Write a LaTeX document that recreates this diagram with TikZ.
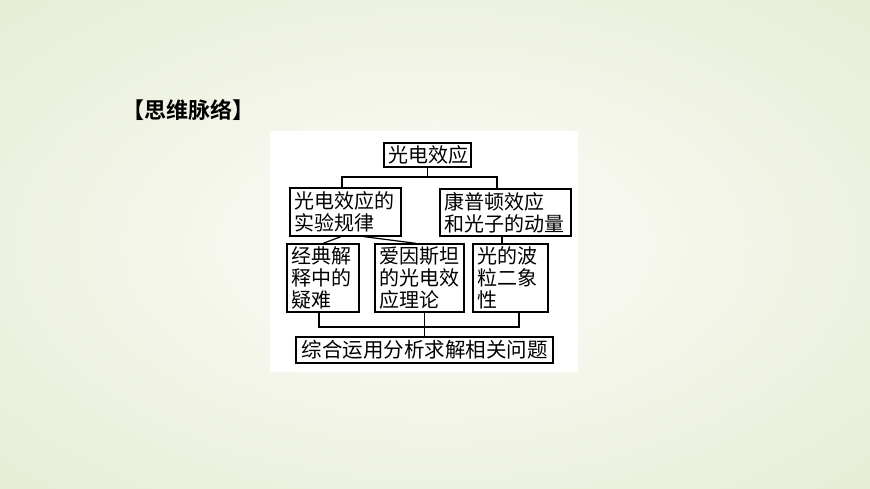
\documentclass[tikz,border=0pt]{standalone}
\usepackage{fontspec}
\newfontfamily\cjk{Noto Sans CJK SC}
\newfontfamily\cjkbold{Noto Sans CJK SC Bold}
\definecolor{bgin}{RGB}{246,247,238}
\definecolor{bgout}{RGB}{220,231,196}
\pgfdeclareradialshading{bgshade}{\pgfpoint{0bp}{0bp}}{color(0bp)=(bgin); color(12bp)=(bgin); color(50bp)=(bgout)}
\tikzset{
  box/.style={draw=black, line width=1.3pt, inner xsep=4pt, inner ysep=0pt, align=left,
    font=\cjk\fontsize{20}{22}\selectfont, anchor=center},
  conn/.style={draw=black, line width=1.2pt},
}
\begin{document}
\begin{tikzpicture}[x=1pt,y=-1pt]
\useasboundingbox (0,0) rectangle (870,489);
\shade[shading=bgshade] (0,0) rectangle (870,489);
\fill[white] (270,131) rectangle (578,372);
\node[font=\cjkbold\fontsize{22}{24}\selectfont, inner sep=0pt] (title) at (188,110) {【思维脉络】};

\node[box, text width=79pt, minimum height=24pt, align=center] (top) at (427.5,155) {光电效应};
\node[box, text width=103pt, minimum height=48pt] (L2) at (345.5,212) {光电效应的\\实验规律};
\node[box, text width=123pt, minimum height=47pt] (R2) at (505.5,212.5) {康普顿效应\\和光子的动量};
\node[box, text width=64pt, minimum height=68pt] (B1) at (323,278) {经典解\\释中的\\疑难};
\node[box, text width=81pt, minimum height=68pt] (B2) at (419.5,278) {爱因斯坦\\的光电效\\应理论};
\node[box, text width=67pt, minimum height=68pt] (B3) at (510.5,278) {光的波\\粒二象\\性};
\node[box, text width=249pt, minimum height=26pt, align=center, font=\cjk\fontsize{20.5}{22}\selectfont] (bot) at (424.5,350) {综合运用分析求解相关问题};

\coordinate (hl) at (342,177);
\coordinate (hr) at (497,177);
\coordinate (rv) at (502,0);
\coordinate (bl) at (319,327);
\coordinate (br) at (519,327);

\draw[conn] (top.south) -- (top.south |- hl);
\draw[conn] (L2.north -| hl) -- (hl) -- (hr) -- (R2.north -| hr);
\draw[conn] ([xshift=-4.5pt]L2.south) -- (B1.north);
\draw[conn] ([xshift=18.5pt]L2.south) -- ([xshift=-3.5pt]B2.north);
\draw[conn] (R2.south -| rv) -- (B3.north -| rv);
\draw[conn] (B1.south -| bl) -- (bl) -- (br) -- (B3.south -| br);
\draw[conn] (B2.south -| bot.north) -- (bot.north);
\end{tikzpicture}
\end{document}
